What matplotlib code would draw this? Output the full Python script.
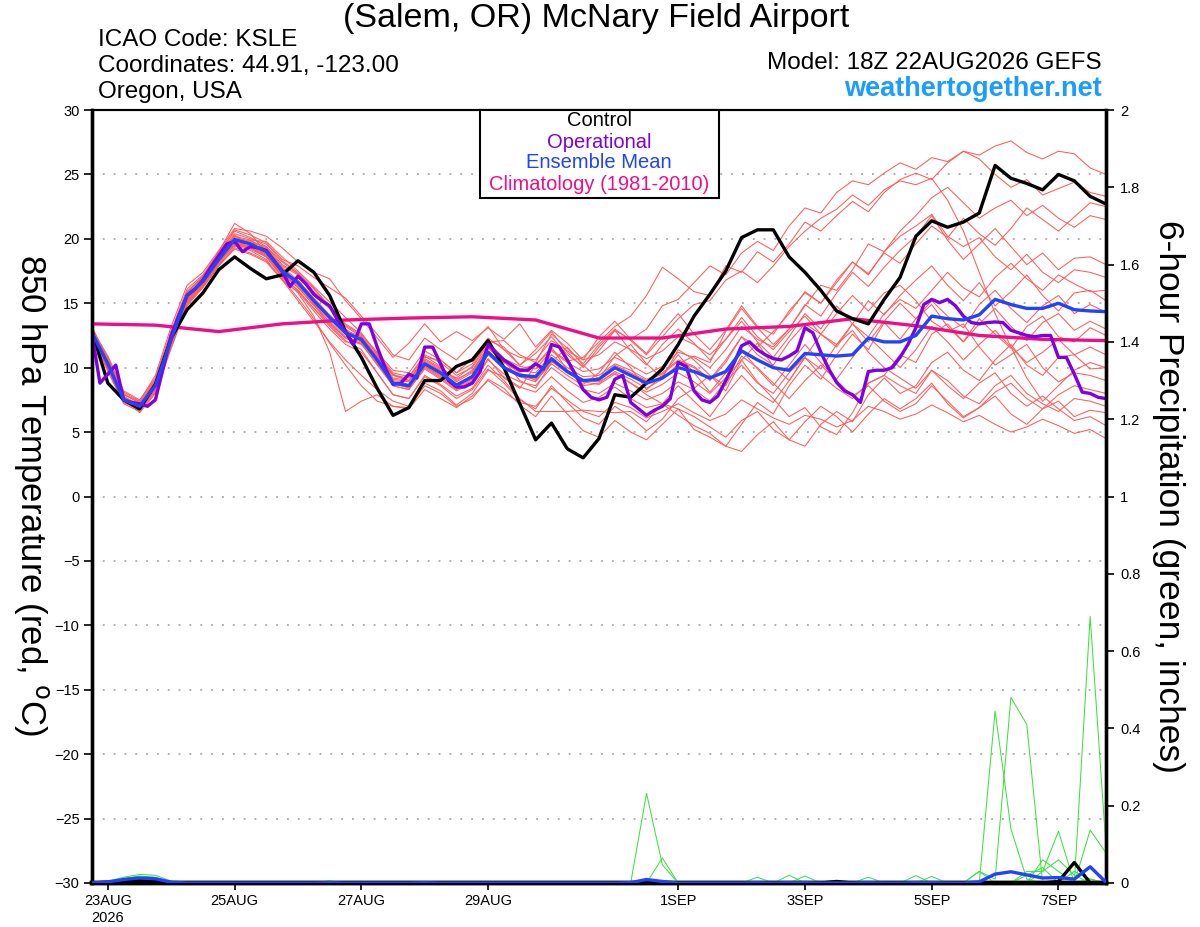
import numpy as np
import matplotlib
matplotlib.use('Agg')
import matplotlib.pyplot as plt
from matplotlib.patches import Rectangle
from matplotlib.ticker import FuncFormatter

plt.rcParams['font.family'] = ['Liberation Sans', 'DejaVu Sans']

W, H = 1200, 927

# ---------------- data ----------------
hours6 = np.arange(0, 385, 6)      # forecast hours from 18Z 22AUG
hours3 = np.arange(0, 385, 3)
hours24 = np.arange(0, 385, 24)

tick_hours = [6, 54, 102, 150, 222, 270, 318, 366]
tick_labels = ['23AUG\n2026', '25AUG', '27AUG', '29AUG', '1SEP', '3SEP', '5SEP', '7SEP']

control = [12.8, 8.8, 7.5, 6.8, 8.7, 12.3, 14.5, 15.8, 17.6, 18.6, 17.7, 16.9, 17.2,
           18.3, 17.4, 15.6, 12.8, 10.8, 8.4, 6.3, 6.9, 9.0, 9.0, 10.1, 10.6, 12.1,
           10.0, 7.2, 4.4, 5.7, 3.7, 3.0, 4.5, 7.9, 7.7, 8.8, 9.9, 11.8, 14.0,
           15.7, 17.5, 20.1, 20.7, 20.7, 18.6, 17.4, 16.0, 14.4, 13.8, 13.4, 15.3, 17.0,
           20.2, 21.4, 20.9, 21.3, 22.0, 25.7, 24.7, 24.3, 23.8, 25.0, 24.5, 23.3, 22.7]

operational = [12.6, 8.8, 9.5, 10.2, 7.5, 7.3, 7.2, 7.0, 7.5, 10.0, 12.5, 14.1, 15.6,
               16.1, 16.8, 17.8, 18.7, 19.6, 19.8, 19.0, 19.4, 19.3, 19.1, 18.3, 17.5, 16.3,
               17.1, 16.5, 15.7, 15.2, 14.8, 13.7, 12.8, 11.8, 13.4, 13.4, 11.6, 10.0, 8.7,
               8.8, 9.5, 9.2, 11.6, 11.6, 10.3, 9.0, 8.5, 8.5, 8.8, 9.7, 11.8, 11.2,
               10.6, 10.2, 9.8, 9.8, 10.3, 9.9, 11.8, 11.6, 10.6, 9.5, 8.3, 7.7, 7.5,
               7.7, 9.1, 9.4, 7.3, 6.8, 6.3, 6.7, 7.0, 7.6, 10.4, 10.1, 8.2, 7.5,
               7.3, 7.8, 9.0, 10.3, 11.7, 12.0, 11.4, 11.0, 10.7, 10.6, 10.9, 11.3, 13.1,
               12.7, 11.2, 9.9, 8.85, 8.2, 7.9, 7.3, 9.7, 9.8, 9.8, 10.0, 10.8, 11.8,
               13.1, 14.9, 15.3, 15.05, 15.3, 14.8, 14.0, 13.5, 13.4, 13.5, 13.55, 13.5, 12.9,
               12.7, 12.5, 12.4, 12.5, 12.5, 10.8, 10.8, 9.5, 8.1, 8.0, 7.7, 7.6]

ens_mean = [12.7, 10.3, 7.5, 7.0, 8.6, 12.2, 15.6, 16.7, 18.4, 19.95, 19.6, 19.0, 17.5,
            16.6, 15.2, 13.9, 12.7, 12.2, 10.6, 8.8, 8.6, 10.3, 9.6, 8.65, 9.3, 11.2,
            10.0, 9.4, 9.3, 10.7, 9.7, 9.0, 9.1, 10.0, 9.4, 8.8, 9.2, 10.0, 9.7,
            9.2, 9.7, 11.3, 10.6, 10.0, 9.8, 11.1, 11.0, 10.9, 11.0, 12.3, 12.0, 12.0,
            12.5, 14.0, 13.8, 13.7, 14.1, 15.3, 14.9, 14.6, 14.6, 15.0, 14.5, 14.4, 14.35]

climatology = [13.4, 13.3, 12.8, 13.4, 13.7, 13.85, 13.95, 13.7, 12.3, 12.3, 13.0, 13.2,
               13.8, 13.25, 12.5, 12.2, 12.1]

members = [
    [12.9, 10.8, 8.0, 7.2, 8.9, 12.6, 15.9, 17.0, 18.8, 20.6, 20.1, 19.4, 18.0,
     17.3, 15.9, 14.8, 13.0, 12.1, 10.9, 9.4, 9.0, 10.8, 10.6, 9.6, 10.7, 12.3,
     11.4, 10.2, 11.1, 12.4, 11.0, 10.1, 11.3, 12.9, 12.2, 13.0, 14.8, 15.3, 16.6,
     17.9, 17.2, 18.9, 19.8, 19.1, 21.0, 22.4, 22.0, 23.6, 24.5, 24.2, 25.1, 25.9,
     25.4, 26.3, 26.0, 26.8, 26.5, 27.2, 27.6, 26.7, 26.2, 26.8, 26.6, 25.5, 25.0],
    [12.5, 9.8, 7.3, 6.8, 8.2, 11.8, 15.2, 16.5, 18.2, 19.6, 19.2, 18.6, 17.1,
     16.0, 14.6, 13.2, 12.0, 11.9, 10.9, 9.4, 9.2, 10.9, 10.1, 9.0, 9.8, 11.6,
     10.6, 9.9, 10.2, 11.4, 10.5, 10.8, 12.0, 13.2, 14.0, 15.6, 17.8, 16.9, 15.9,
     15.6, 17.9, 17.4, 19.0, 18.2, 19.6, 21.3, 20.6, 21.8, 22.9, 22.1, 23.6, 24.6,
     25.1, 24.6, 25.9, 26.8, 26.2, 25.0, 24.0, 24.6, 23.4, 23.9, 24.4, 23.6, 23.3],
    [13.2, 10.5, 7.8, 6.5, 8.0, 11.5, 14.8, 16.2, 17.9, 19.4, 19.9, 19.8, 18.6,
     17.5, 16.3, 15.1, 13.9, 12.7, 11.0, 9.5, 9.0, 10.5, 9.8, 9.2, 10.1, 12.0,
     12.1, 11.0, 10.4, 12.6, 11.5, 10.3, 11.8, 13.0, 12.1, 11.0, 12.4, 13.8, 14.9,
     15.2, 16.8, 17.5, 16.6, 17.9, 19.4, 20.6, 21.6, 22.3, 23.4, 22.6, 23.8, 24.5,
     24.2, 24.7, 23.0, 20.6, 17.4, 14.2, 11.6, 9.2, 7.4, 8.6, 9.8, 10.4, 10.0],
    [12.6, 10.1, 7.4, 7.1, 9.0, 12.9, 16.1, 17.2, 19.0, 21.2, 20.4, 18.9, 17.0,
     15.8, 14.0, 11.2, 6.6, 7.4, 7.9, 7.0, 6.8, 8.3, 7.6, 6.9, 7.8, 9.0,
     8.1, 7.3, 7.0, 8.4, 7.5, 6.6, 6.2, 7.3, 6.9, 6.1, 6.6, 7.2, 6.5,
     5.9, 6.4, 7.5, 6.8, 6.1, 5.6, 6.3, 6.0, 5.4, 5.9, 7.0, 6.6, 6.0,
     6.4, 7.1, 6.5, 5.8, 6.3, 5.6, 5.0, 5.4, 6.0, 5.5, 4.9, 5.2, 4.5],
    [12.8, 10.6, 7.9, 7.4, 9.4, 13.2, 16.4, 17.4, 19.1, 20.8, 20.6, 20.2, 19.3,
     18.2, 17.4, 16.9, 15.2, 13.8, 12.3, 10.8, 11.9, 13.4, 12.0, 12.8, 12.1, 13.1,
     12.2, 13.4, 11.6, 12.9, 11.9, 10.6, 12.4, 13.6, 12.2, 11.1, 12.8, 14.2, 12.6,
     11.4, 12.9, 14.8, 13.2, 12.6, 14.4, 15.8, 15.0, 16.6, 18.2, 17.3, 18.9, 18.1,
     19.6, 21.0, 20.1, 21.6, 20.4, 19.5, 20.8, 22.4, 21.5, 20.6, 21.7, 22.8, 22.5],
    [12.4, 10.0, 7.5, 7.0, 8.4, 12.0, 15.5, 16.8, 18.5, 20.1, 19.8, 19.3, 17.9,
     17.2, 15.6, 14.6, 13.2, 12.4, 10.8, 9.1, 8.9, 10.6, 9.9, 8.9, 9.6, 11.5,
     10.4, 9.6, 9.0, 10.3, 9.4, 8.6, 8.8, 9.7, 9.1, 8.4, 9.1, 10.3, 10.9,
     10.4, 12.8, 14.6, 13.1, 11.8, 13.0, 14.9, 14.0, 15.8, 17.4, 16.3, 17.8, 19.1,
     20.2, 21.8, 19.9, 18.4, 19.6, 20.8, 19.4, 18.0, 18.9, 17.6, 18.5, 18.6, 18.0],
    [12.7, 10.4, 7.7, 6.9, 8.5, 12.3, 15.6, 16.9, 18.6, 20.3, 19.5, 18.7, 17.3,
     16.2, 14.9, 13.3, 12.1, 11.4, 9.6, 7.9, 7.6, 9.4, 8.7, 7.8, 8.4, 10.2,
     9.0, 7.6, 6.6, 6.6, 6.6, 6.7, 6.6, 6.5, 6.6, 5.8, 7.2, 8.6, 7.4,
     6.2, 7.9, 9.4, 8.1, 7.3, 9.0, 10.8, 9.9, 11.8, 13.4, 12.4, 14.2, 15.3,
     14.6, 16.0, 17.4, 16.2, 15.5, 17.0, 18.1, 16.9, 16.0, 17.2, 16.5, 15.9, 16.0],
    [12.9, 10.2, 7.6, 6.9, 8.7, 12.4, 15.3, 16.6, 18.3, 19.7, 19.4, 18.8, 17.4,
     16.5, 15.0, 13.8, 12.9, 12.0, 10.5, 8.8, 8.5, 10.1, 9.4, 8.5, 9.1, 11.0,
     10.6, 9.0, 8.4, 10.4, 11.6, 10.2, 9.1, 10.9, 11.8, 10.3, 9.2, 11.4, 10.6,
     9.4, 8.2, 10.6, 11.9, 10.1, 9.0, 10.8, 12.6, 11.6, 13.4, 15.2, 14.1, 15.6,
     16.8, 17.9, 16.4, 15.2, 16.6, 14.8, 15.9, 17.2, 15.6, 14.4, 15.8, 16.0, 15.2],
    [12.3, 9.7, 7.2, 6.6, 8.1, 11.7, 15.0, 16.3, 18.0, 19.3, 18.9, 18.3, 16.9,
     15.4, 13.8, 11.9, 10.2, 8.6, 7.4, 7.0, 6.9, 8.6, 8.0, 7.0, 7.6, 9.1,
     8.4, 7.1, 6.2, 7.8, 6.4, 5.1, 4.6, 5.9, 5.0, 4.4, 5.6, 6.8, 5.2,
     4.6, 3.9, 5.6, 7.3, 6.4, 8.6, 10.2, 9.1, 11.0, 12.6, 11.4, 13.5, 12.2,
     13.8, 15.2, 14.0, 13.1, 14.9, 16.0, 14.6, 13.5, 14.8, 15.6, 14.2, 14.9, 14.3],
    [13.0, 10.9, 8.2, 7.5, 9.1, 12.7, 15.8, 17.1, 18.7, 20.4, 20.0, 19.6, 18.3,
     17.4, 16.1, 14.8, 13.4, 12.6, 11.2, 9.8, 9.6, 11.3, 10.6, 9.6, 10.3, 12.1,
     11.6, 10.2, 11.4, 12.8, 11.2, 10.0, 11.6, 12.9, 11.3, 10.2, 11.8, 13.0, 11.9,
     10.6, 12.2, 13.6, 12.0, 10.8, 12.4, 14.2, 13.0, 14.8, 13.4, 12.0, 13.6, 15.0,
     13.8, 14.9, 13.2, 12.0, 13.4, 14.6, 13.2, 12.1, 13.5, 14.2, 12.9, 13.6, 13.0],
    [12.6, 10.3, 7.6, 7.1, 8.8, 12.1, 15.4, 16.6, 18.3, 19.8, 19.4, 18.8, 17.2,
     16.3, 14.8, 13.6, 12.4, 12.0, 10.4, 8.8, 8.4, 10.1, 9.3, 8.4, 9.0, 11.0,
     9.9, 9.3, 8.9, 10.5, 9.6, 8.9, 8.7, 9.5, 8.8, 8.1, 8.7, 9.6, 8.9,
     8.0, 9.2, 10.6, 8.9, 7.6, 6.2, 6.9, 5.4, 4.8, 6.5, 8.8, 9.4, 11.0,
     10.4, 12.6, 13.4, 12.0, 13.8, 12.6, 11.5, 13.2, 14.0, 12.4, 12.0, 13.1, 12.5],
    [12.8, 10.5, 7.8, 7.0, 8.4, 12.0, 15.1, 16.4, 18.1, 19.6, 19.3, 18.6, 17.0,
     16.0, 14.6, 13.4, 12.3, 11.8, 10.3, 8.6, 8.3, 10.0, 9.2, 8.3, 8.9, 10.7,
     9.2, 8.4, 10.2, 11.6, 9.8, 8.7, 9.6, 11.2, 10.0, 8.3, 9.4, 11.0, 9.6,
     8.1, 9.6, 11.4, 9.9, 8.6, 10.2, 11.8, 10.4, 9.1, 10.8, 12.4, 11.2, 10.0,
     11.4, 13.2, 12.0, 10.6, 11.8, 12.9, 11.6, 10.4, 11.2, 12.2, 11.0, 11.6, 11.0],
    [12.5, 10.0, 7.4, 6.8, 8.3, 11.9, 15.1, 16.4, 18.1, 19.5, 19.1, 18.4, 16.8,
     15.2, 13.6, 12.0, 10.6, 9.4, 8.3, 7.4, 7.0, 8.8, 8.2, 7.1, 8.0, 9.8,
     9.3, 8.5, 8.1, 9.3, 8.2, 7.3, 7.7, 8.5, 7.6, 6.9, 7.2, 6.3, 5.5,
     4.9, 3.9, 3.5, 4.8, 5.8, 4.4, 3.9, 5.6, 6.6, 5.8, 7.9, 9.2, 8.0,
     8.6, 10.4, 11.2, 9.8, 9.0, 10.6, 11.8, 10.2, 9.4, 10.8, 11.0, 9.9, 10.0],
    [12.9, 10.6, 7.9, 7.3, 9.0, 12.5, 15.6, 16.9, 18.6, 20.2, 19.9, 19.2, 17.8,
     16.8, 15.4, 14.1, 12.9, 12.4, 10.9, 9.2, 9.0, 10.7, 10.0, 9.1, 9.7, 11.6,
     10.4, 9.8, 9.6, 11.0, 10.0, 9.3, 9.4, 10.3, 9.8, 9.1, 9.6, 10.6, 10.1,
     9.1, 10.6, 12.4, 11.0, 10.2, 12.0, 13.4, 12.6, 14.2, 15.6, 14.4, 15.8, 16.4,
     15.2, 13.6, 12.8, 13.4, 11.6, 10.2, 11.0, 11.8, 10.0, 8.9, 9.6, 9.4, 9.0],
    [12.4, 9.9, 7.3, 6.7, 8.2, 11.6, 14.9, 16.3, 17.9, 19.2, 18.8, 18.2, 16.8,
     15.9, 14.4, 13.0, 11.8, 11.2, 9.6, 7.9, 7.6, 9.3, 8.6, 7.6, 8.3, 9.9,
     8.8, 7.5, 6.8, 8.6, 7.3, 6.1, 5.6, 7.0, 6.2, 5.1, 6.0, 7.6, 8.4,
     9.4, 8.6, 10.9, 10.0, 8.8, 7.6, 9.0, 10.2, 9.0, 7.8, 8.6, 7.4, 6.6,
     7.2, 8.6, 7.4, 6.2, 6.9, 8.1, 8.8, 7.6, 6.8, 7.9, 8.6, 8.3, 8.0],
    [12.7, 10.2, 7.5, 7.0, 8.6, 12.1, 15.3, 16.6, 18.4, 19.8, 19.6, 19.0, 17.7,
     16.7, 15.3, 13.9, 12.7, 12.3, 10.7, 9.0, 8.7, 10.4, 9.7, 8.7, 9.4, 11.3,
     10.1, 9.5, 9.2, 10.6, 9.7, 9.0, 8.9, 9.6, 8.8, 7.9, 7.2, 6.8, 6.2,
     5.4, 4.6, 5.9, 6.6, 5.2, 4.4, 5.8, 7.0, 6.2, 5.0, 6.4, 7.6, 6.8,
     7.6, 8.8, 7.2, 6.1, 6.9, 7.8, 6.4, 5.6, 6.8, 7.4, 6.2, 6.7, 6.5],
    [13.1, 10.7, 8.1, 7.4, 9.2, 12.8, 15.9, 17.1, 18.9, 20.7, 20.3, 19.7, 18.4,
     17.9, 17.0, 16.2, 15.4, 14.0, 12.6, 11.0, 10.6, 12.3, 11.4, 10.6, 11.9, 13.2,
     11.4, 10.8, 10.6, 12.1, 11.3, 10.6, 11.0, 12.0, 11.4, 10.7, 11.3, 12.4, 11.8,
     11.0, 12.2, 13.9, 12.4, 11.4, 12.8, 14.0, 12.6, 11.8, 12.9, 11.2, 10.0, 9.2,
     8.4, 9.8, 8.6, 7.6, 8.8, 9.6, 8.0, 7.0, 7.8, 6.8, 5.9, 6.2, 5.5],
    [12.6, 10.4, 7.7, 7.2, 8.7, 12.3, 15.5, 16.8, 18.5, 20.0, 19.7, 19.1, 17.7,
     16.6, 15.1, 13.8, 12.6, 12.1, 10.5, 8.8, 8.5, 10.2, 9.5, 8.6, 9.2, 11.1,
     10.0, 9.3, 9.1, 10.5, 9.6, 8.9, 9.2, 10.2, 9.6, 9.0, 9.5, 10.5, 10.0,
     9.0, 10.4, 12.4, 11.6, 12.8, 14.2, 15.9, 15.0, 16.8, 18.2, 17.2, 19.0, 20.2,
     21.0, 21.9, 20.2, 19.4, 20.1, 18.6, 17.6, 18.8, 17.4, 16.6, 17.6, 17.4, 17.0],
    [12.8, 10.3, 7.6, 6.9, 8.5, 12.2, 15.3, 16.6, 18.3, 19.8, 19.7, 19.4, 18.2,
     17.3, 16.2, 14.7, 13.3, 12.5, 11.1, 9.6, 9.3, 11.0, 10.4, 9.4, 10.0, 11.8,
     10.7, 10.1, 9.9, 11.3, 10.4, 9.7, 9.9, 10.8, 10.2, 9.5, 10.1, 11.2, 10.8,
     10.0, 11.4, 13.2, 12.2, 11.6, 13.0, 14.8, 16.4, 16.0, 17.6, 19.6, 19.0, 20.6,
     21.8, 23.2, 24.0, 22.8, 21.6, 22.4, 23.0, 21.8, 22.6, 21.6, 20.9, 21.8, 21.5],
    [12.5, 10.1, 7.5, 6.9, 8.4, 12.0, 15.2, 16.5, 18.2, 19.7, 19.3, 18.7, 17.3,
     16.4, 15.0, 13.5, 12.3, 11.9, 10.2, 8.6, 8.3, 9.9, 9.1, 8.2, 8.8, 10.6,
     9.5, 8.9, 8.6, 10.0, 9.1, 8.3, 8.0, 8.8, 8.2, 7.5, 8.0, 8.9, 8.3,
     7.4, 8.9, 10.2, 8.8, 8.0, 9.6, 10.8, 9.4, 8.4, 7.6, 8.8, 9.4, 8.6,
     8.0, 9.8, 9.0, 7.8, 7.2, 8.6, 9.4, 8.0, 7.2, 6.6, 7.6, 7.4, 7.0],
]

precip_mean = [0, 0.003, 0.009, 0.013, 0.011, 0.002, 0, 0, 0, 0, 0, 0, 0,
               0, 0, 0.001, 0, 0, 0, 0, 0, 0.001, 0, 0, 0, 0,
               0, 0, 0, 0, 0, 0, 0, 0, 0.001, 0.009, 0.004, 0, 0,
               0, 0, 0, 0.001, 0, 0.001, 0.001, 0, 0, 0, 0.001, 0, 0,
               0.001, 0.001, 0, 0, 0.003, 0.023, 0.029, 0.021, 0.013, 0.014, 0.010, 0.042, 0.002]

precip_control = [0, 0.002, 0.004, 0.006, 0.004, 0, 0, 0, 0, 0, 0, 0, 0,
                  0, 0, 0, 0, 0, 0, 0, 0, 0, 0, 0, 0, 0,
                  0, 0, 0, 0, 0, 0, 0, 0, 0, 0, 0, 0, 0,
                  0, 0, 0, 0, 0, 0, 0, 0, 0.004, 0, 0, 0, 0,
                  0, 0, 0, 0, 0, 0, 0, 0, 0, 0.004, 0.053, 0, 0]

precip_members = [
    [0, 0.004, 0.015, 0.022, 0.020, 0.005, 0, 0, 0, 0, 0, 0, 0,
     0, 0, 0, 0, 0, 0, 0, 0, 0, 0, 0, 0, 0,
     0, 0, 0, 0, 0, 0, 0, 0, 0, 0.232, 0.047, 0, 0,
     0, 0, 0, 0, 0, 0, 0, 0, 0, 0, 0, 0, 0,
     0, 0, 0, 0, 0, 0.445, 0.140, 0.010, 0, 0, 0, 0, 0],
    [0, 0.003, 0.012, 0.018, 0.015, 0.003, 0, 0, 0, 0, 0, 0, 0,
     0, 0, 0, 0, 0, 0, 0, 0, 0.003, 0, 0, 0, 0,
     0, 0, 0, 0, 0, 0, 0, 0, 0, 0, 0.065, 0, 0,
     0, 0, 0, 0, 0, 0, 0, 0, 0, 0, 0, 0, 0,
     0, 0, 0, 0, 0.030, 0.010, 0.480, 0.410, 0, 0, 0, 0, 0],
    [0, 0, 0.006, 0.010, 0.008, 0, 0, 0, 0, 0, 0, 0, 0,
     0, 0, 0, 0, 0, 0, 0, 0, 0, 0, 0, 0, 0,
     0, 0, 0, 0, 0, 0, 0, 0, 0, 0, 0, 0, 0,
     0, 0, 0, 0, 0, 0.020, 0, 0, 0, 0, 0, 0, 0,
     0, 0, 0, 0, 0, 0, 0, 0, 0, 0, 0, 0.690, 0.094],
    [0, 0, 0, 0.005, 0, 0, 0, 0, 0, 0, 0, 0, 0,
     0, 0, 0, 0, 0, 0, 0, 0, 0, 0, 0, 0, 0,
     0, 0, 0, 0, 0, 0, 0, 0, 0, 0, 0, 0, 0,
     0, 0, 0, 0.015, 0, 0, 0, 0, 0, 0, 0, 0, 0,
     0, 0, 0, 0, 0, 0, 0, 0.030, 0.030, 0.134, 0, 0.010, 0],
    [0, 0, 0, 0, 0, 0, 0, 0, 0, 0, 0, 0, 0,
     0, 0, 0, 0, 0, 0, 0, 0, 0, 0, 0, 0, 0,
     0, 0, 0, 0, 0, 0, 0, 0, 0, 0, 0, 0, 0,
     0, 0, 0, 0, 0, 0, 0.018, 0, 0, 0, 0, 0, 0,
     0.019, 0, 0, 0, 0, 0, 0, 0, 0, 0, 0, 0.137, 0.078],
    [0, 0, 0, 0, 0, 0, 0, 0, 0, 0, 0, 0, 0,
     0, 0, 0, 0, 0, 0, 0, 0, 0, 0, 0, 0, 0,
     0, 0, 0, 0, 0, 0, 0, 0, 0, 0, 0, 0, 0,
     0, 0, 0, 0, 0, 0, 0, 0, 0, 0, 0.015, 0, 0,
     0, 0.017, 0, 0, 0, 0, 0, 0, 0.060, 0.030, 0, 0, 0],
    [0, 0, 0, 0, 0, 0, 0, 0, 0, 0, 0, 0, 0,
     0, 0, 0, 0, 0, 0, 0, 0, 0, 0, 0, 0, 0,
     0, 0, 0, 0, 0, 0, 0, 0, 0, 0, 0, 0, 0,
     0, 0, 0, 0, 0, 0, 0, 0, 0, 0, 0, 0, 0,
     0, 0, 0, 0, 0.030, 0, 0, 0, 0.030, 0.060, 0.020, 0, 0],
    [0, 0, 0, 0.010, 0, 0, 0, 0, 0, 0, 0, 0, 0,
     0, 0, 0.006, 0, 0, 0, 0, 0, 0, 0, 0, 0, 0,
     0, 0, 0, 0, 0, 0, 0, 0, 0, 0, 0, 0, 0,
     0, 0, 0, 0, 0, 0, 0, 0, 0, 0, 0, 0, 0,
     0, 0, 0, 0, 0, 0, 0, 0.020, 0.040, 0, 0.030, 0.010, 0],
]

# ---------------- colours ----------------
C_MEMBER = '#ff5c5c'
C_PRECIP = '#3fe03f'
C_CONTROL = '#000000'
C_OPER = '#7f00e0'
C_MEAN = '#2142ff'
C_CLIM = '#ee0e88'
C_SITE = '#1a9dff'

# ---------------- figure ----------------
fig = plt.figure(figsize=(W / 100, H / 100), dpi=100)
fig.patch.set_facecolor('white')

L, R, T, B = 92, 1106, 110, 883
ax = fig.add_axes([L / W, 1 - B / H, (R - L) / W, (B - T) / H])
ax2 = ax.twinx()

for m in members:
    ax.plot(hours6, m, color=C_MEMBER, lw=0.75, zorder=2)
ax.plot(hours24, climatology, color=C_CLIM, lw=2.4, zorder=3)
ax.plot(hours6, control, color=C_CONTROL, lw=2.4, zorder=4)
ax.plot(hours3, operational, color=C_OPER, lw=2.4, zorder=5)
ax.plot(hours6, ens_mean, color=C_MEAN, lw=2.4, zorder=6)

for p in precip_members:
    ax2.plot(hours6, p, color=C_PRECIP, lw=0.75, zorder=2)
ax2.plot(hours6, precip_control, color=C_CONTROL, lw=2.4, zorder=3)
ax2.plot(hours6, precip_mean, color=C_MEAN, lw=2.4, zorder=4)

ax.set_xlim(0, 384)
ax.set_ylim(-30, 30)
ax2.set_ylim(0, 2)

ax.set_yticks(np.arange(-30, 31, 5))
ax.yaxis.grid(True, linestyle=(0, (1, 5)), color='#a8a8a8', lw=1.3)
ax.set_axisbelow(True)
ax2.set_yticks(np.arange(0, 2.01, 0.2))
ax2.yaxis.set_major_formatter(FuncFormatter(lambda v, p: ('%.1f' % v).rstrip('0').rstrip('.')))

ax.set_xticks(tick_hours)
ax.set_xticklabels(tick_labels, linespacing=1.25)

ax.tick_params(axis='y', direction='out', length=6, width=1.2, labelsize=10.5, pad=3)
ax.tick_params(axis='x', direction='out', length=5, width=1.2, labelsize=10.5, pad=3)
ax2.tick_params(axis='y', direction='out', length=6, width=1.2, labelsize=10.5, pad=4)

for a in (ax, ax2):
    a.spines['top'].set_linewidth(1.5)
    a.spines['left'].set_linewidth(2.4)
    a.spines['right'].set_linewidth(2.4)
    a.spines['bottom'].set_linewidth(3.2)

# ---------------- texts ----------------
def ftext(x, y, s, **kw):
    fig.text(x / W, 1 - y / H, s, **kw)

ftext(596, 18, '(Salem, OR) McNary Field Airport', ha='center', va='center', fontsize=24.5)
ftext(98, 40, 'ICAO Code: KSLE', ha='left', va='center', fontsize=17.5)
ftext(98, 66, 'Coordinates: 44.91, -123.00', ha='left', va='center', fontsize=17.5)
ftext(98, 92, 'Oregon, USA', ha='left', va='center', fontsize=17.5)
ftext(1102, 63, 'Model: 18Z 22AUG2026 GEFS', ha='right', va='center', fontsize=17.5)
ftext(1102, 89, 'weathertogether.net', ha='right', va='center', fontsize=19.5,
      fontweight='bold', color=C_SITE)

ftext(31, 495, '850 hPa Temperature (red, $^{\\rm o}$C)', ha='center', va='center',
      fontsize=25, rotation=-90)
ftext(1169, 496, '6-hour Precipitation (green, inches)', ha='center', va='center',
      fontsize=25.5, rotation=-90)

# legend box
bx0, bx1, by0, by1 = 480, 719, 110, 198
fig.patches.append(Rectangle((bx0 / W, 1 - by1 / H), (bx1 - bx0) / W, (by1 - by0) / H,
                             transform=fig.transFigure, facecolor='white',
                             edgecolor='black', lw=1.5, zorder=10))
leg = [('Control', C_CONTROL, 121), ('Operational', C_OPER, 142),
       ('Ensemble Mean', C_MEAN, 163), ('Climatology (1981-2010)', C_CLIM, 185)]
for s, c, y in leg:
    ftext(599, y, s, ha='center', va='center', fontsize=14.5, color=c, zorder=11)

fig.savefig('out.png', dpi=100)
